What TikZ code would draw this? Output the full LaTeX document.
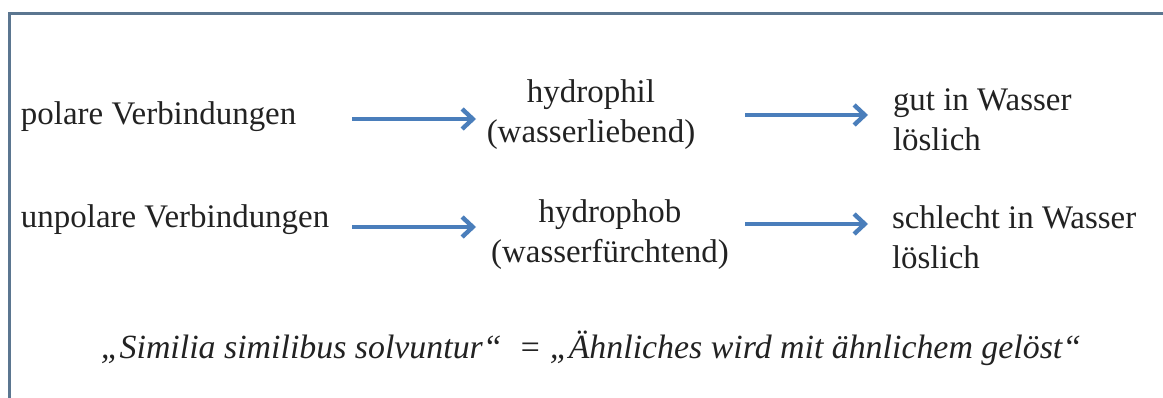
\documentclass[tikz,border=0pt]{standalone}
\usepackage{fontspec}
\setmainfont{Liberation Serif}
\usetikzlibrary{arrows.meta}
\definecolor{framec}{HTML}{5B7690}
\definecolor{arrowc}{HTML}{4A7EBB}
\definecolor{txt}{HTML}{222222}
\begin{document}
\begin{tikzpicture}[x=0.75pt,y=-0.75pt,
  lbl/.style={font=\fontsize{24.7}{30}\selectfont, text=txt, inner sep=0pt, outer sep=0pt},
  conn/.style={draw=arrowc, line width=3pt, -{Straight Barb[length=8pt,width=15pt,line width=3.3pt]}},
  framestyle/.style={draw=framec, line width=2.25pt}]
\useasboundingbox (0,0) rectangle (1163,398);
\fill[white] (0,0) rectangle (1163,398);
\draw[framestyle] (9,398) -- (9,14) -- (1163,14);
% nodes (multi-line nodes: base anchor is the baseline of the last line)
\node[lbl, anchor=base west] (pol) at (21,125) {polare Verbindungen};
\node[lbl, anchor=base west] (unpol) at (21,228) {unpolare Verbindungen};
\node[lbl, anchor=base, align=center] (phil) at (591,143) {hydrophil\\(wasserliebend)};
\node[lbl, anchor=base, align=center] (phob) at (610,263) {hydrophob\\(wasserfürchtend)};
\node[lbl, anchor=base west, align=left] (gut) at (893,151) {gut in Wasser\\löslich};
\node[lbl, anchor=base west, align=left] (schl) at (892,269) {schlecht in Wasser\\löslich};
\node[lbl, anchor=base, font=\fontsize{25.4}{30}\selectfont] (motto) at (591,359) {\itshape „Similia similibus solvuntur“ \ = „Ähnliches wird mit ähnlichem gelöst“};
% arrow end points
\coordinate (a1s) at (352,119);
\coordinate (a1e) at (476,119);
\coordinate (a2s) at (745,115);
\coordinate (a2e) at (868,115);
\coordinate (b1s) at (352,227);
\coordinate (b1e) at (476,227);
\coordinate (b2s) at (745,224);
\coordinate (b2e) at (868,224);
\draw[conn] (a1s) -- (a1e);
\draw[conn] (a2s) -- (a2e);
\draw[conn] (b1s) -- (b1e);
\draw[conn] (b2s) -- (b2e);
\end{tikzpicture}
\end{document}
